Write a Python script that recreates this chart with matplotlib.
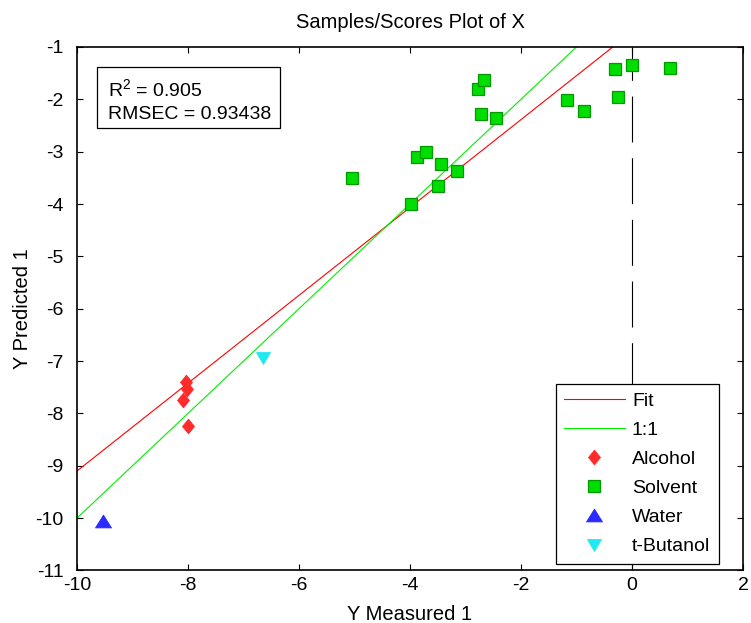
import numpy as np
import matplotlib
matplotlib.use("Agg")
import matplotlib.pyplot as plt
from matplotlib.path import Path
from matplotlib.patches import Rectangle

plt.rcParams['font.family'] = ['Liberation Sans', 'DejaVu Sans']
plt.rcParams['lines.scale_dashes'] = False
plt.rcParams['axes.unicode_minus'] = False

# Measured vs. predicted values per sample class
alcohol_meas = [-8.04, -8.02, -8.09, -8.00]
alcohol_pred = [-7.40, -7.54, -7.74, -8.24]

solvent_meas = [-5.04, -3.99, -3.50, -3.87, -3.71, -3.44, -3.16, -2.77, -2.66,
                -2.72, -2.45, -1.17, -0.86, -0.31, 0.00, 0.69, -0.25]
solvent_pred = [-3.51, -4.00, -3.66, -3.10, -3.01, -3.24, -3.36, -1.81, -1.63,
                -2.28, -2.36, -2.01, -2.22, -1.43, -1.34, -1.40, -1.96]

water_meas = [-9.53]
water_pred = [-10.05]

tbutanol_meas = [-6.64]
tbutanol_pred = [-6.95]

# Regression line and statistics
fit_slope = 0.839
fit_intercept = -0.71
r2 = 0.905
rmsec = 0.93438

xlim = (-10, 2)
ylim = (-11, -1)
xticks = [-10, -8, -6, -4, -2, 0, 2]
yticks = [-11, -10, -9, -8, -7, -6, -5, -4, -3, -2, -1]

# Marker shapes (MATLAB-like proportions)
diamond = Path([(0, 1), (0.82, 0), (0, -1), (-0.82, 0), (0, 1)],
               [Path.MOVETO, Path.LINETO, Path.LINETO, Path.LINETO, Path.CLOSEPOLY])
tri_up = Path([(0, 0.8), (1, -0.8), (-1, -0.8), (0, 0.8)],
              [Path.MOVETO, Path.LINETO, Path.LINETO, Path.CLOSEPOLY])
tri_down = Path([(0, -0.85), (1, 0.85), (-1, 0.85), (0, -0.85)],
                [Path.MOVETO, Path.LINETO, Path.LINETO, Path.CLOSEPOLY])

fig = plt.figure(figsize=(7.51, 6.23), dpi=100)
ax = fig.add_axes([0.1025, 0.0843, 0.8868, 0.8403])

xs = np.array(xlim, dtype=float)
ax.plot(xs, fit_slope * xs + fit_intercept, color='#ff0000', lw=0.8, label='Fit', zorder=2)
ax.plot(xs, xs, color='#00ee00', lw=0.8, label='1:1', zorder=2)

ax.plot(alcohol_meas, alcohol_pred, linestyle='none', marker=diamond, markersize=10.5,
        markerfacecolor='#ff2a2a', markeredgecolor='#ff2a2a', mew=0.6,
        label='Alcohol', zorder=3)
ax.plot(solvent_meas, solvent_pred, linestyle='none', marker='s', markersize=9.2,
        markerfacecolor='#00dd00', markeredgecolor='#009a00', mew=0.9,
        label='Solvent', zorder=3)
ax.plot(water_meas, water_pred, linestyle='none', marker=tri_up, markersize=11.5,
        markerfacecolor='#2a2aff', markeredgecolor='#2a2aff', mew=0.6,
        label='Water', zorder=3)
ax.plot(tbutanol_meas, tbutanol_pred, linestyle='none', marker=tri_down, markersize=10,
        markerfacecolor='#1ee8f0', markeredgecolor='#1ee8f0', mew=0.6,
        label='t-Butanol', zorder=3)

# Vertical reference at zero
ax.plot([0, 0], [ylim[1], ylim[0]], color='black', lw=0.8,
        linestyle=(9.1, (33.1, 11.3)), zorder=1)

ax.set_xlim(*xlim)
ax.set_ylim(*ylim)
ax.set_xticks(xticks)
ax.set_yticks(yticks)
ax.tick_params(axis='both', direction='in', length=4.5, width=0.8,
               top=True, right=True, labelsize=14, colors='black')
ax.tick_params(axis='x', pad=5)
ax.tick_params(axis='y', pad=9.5)
for sp in ax.spines.values():
    sp.set_linewidth(1.2)
    sp.set_color('black')

ax.set_title('Samples/Scores Plot of X', fontsize=14.5, pad=13.5)
ax.set_xlabel('Y Measured 1', fontsize=14.5)
ax.set_ylabel('Y Predicted 1', fontsize=14.5)
ax.xaxis.set_label_coords(0.5, -0.066)
ax.yaxis.set_label_coords(-0.068, 0.5)

# Statistics box
ax.add_patch(Rectangle((0.030, 0.8453), 0.2748, 0.1165, transform=ax.transAxes,
                       facecolor='white', edgecolor='black', lw=0.9, zorder=5))
ax.text(0.0465, 0.9064, '$\\mathregular{R^2}$ = %.3f' % r2, transform=ax.transAxes,
        ha='left', va='baseline', fontsize=14, zorder=6)
ax.text(0.0465, 0.8618, 'RMSEC = %.5f' % rmsec, transform=ax.transAxes,
        ha='left', va='baseline', fontsize=14, zorder=6)

leg = ax.legend(loc='upper right', bbox_to_anchor=(0.964, 0.357), fontsize=14,
                handlelength=3.1, handletextpad=0.38, borderpad=0.45,
                labelspacing=0.59, borderaxespad=0, numpoints=1,
                fancybox=False, framealpha=1, edgecolor='black')
leg.get_frame().set_linewidth(0.9)
leg.set_zorder(10)

fig.savefig('out.png', dpi=100)
